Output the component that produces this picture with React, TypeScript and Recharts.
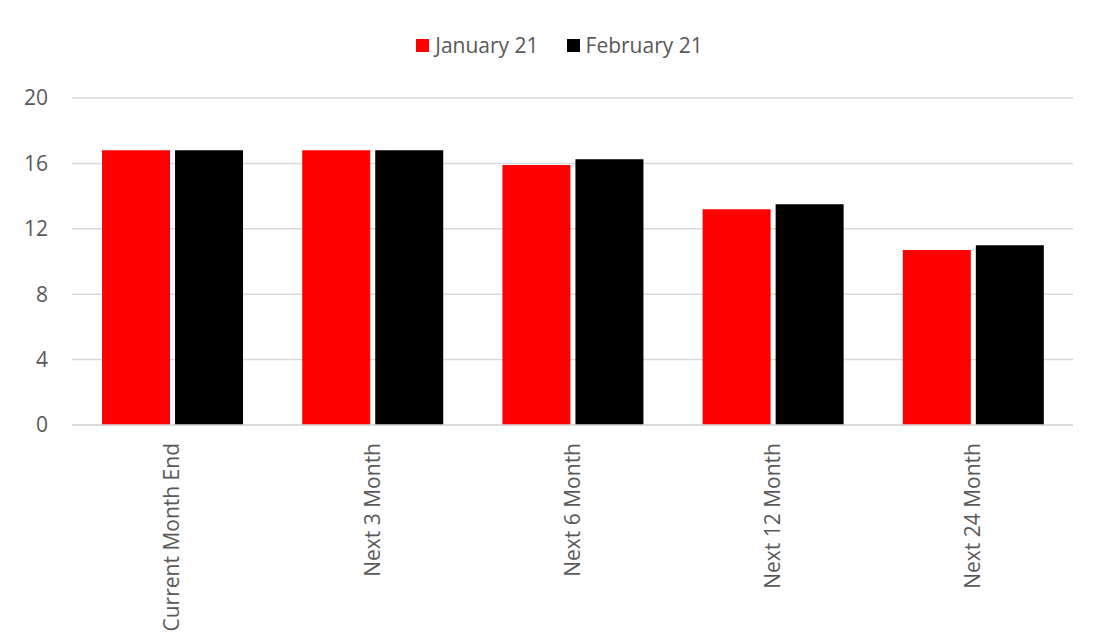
import { Bar, BarChart, CartesianGrid, Legend, XAxis, YAxis } from 'recharts';

const categories = ['Current Month End', 'Next 3 Month', 'Next 6 Month', 'Next 12 Month', 'Next 24 Month'];
const january21 = [16.8, 16.8, 15.9, 13.2, 10.7];
const february21 = [16.8, 16.8, 16.25, 13.5, 11.0];
const yTicks = [0, 4, 8, 12, 16, 20];

const seriesNames = ['January 21', 'February 21'];
const seriesColors = ['#ff0000', '#000000'];

const chartData = categories.map((c, i) => ({
  name: c,
  jan: january21[i],
  feb: february21[i],
}));

const FONT = '"Open Sans", "Noto Sans", sans-serif';
const TEXT = '#595959';

function RotatedTick(props: any) {
  const { x, y, payload } = props;
  return (
    <g transform={`translate(${x},${y})`}>
      <text
        transform="rotate(-90)"
        x={-10}
        y={0}
        dy="0.35em"
        textAnchor="end"
        fill={TEXT}
        fontSize={21}
        fontFamily={FONT}
      >
        {payload.value}
      </text>
    </g>
  );
}

function LegendContent() {
  return (
    <div
      style={{
        display: 'flex',
        justifyContent: 'center',
        gap: 28,
        paddingLeft: 12,
        fontFamily: FONT,
        fontSize: 21,
        color: TEXT,
        lineHeight: '28px',
      }}
    >
      {seriesNames.map((n, i) => (
        <div key={n} style={{ display: 'flex', alignItems: 'center' }}>
          <span style={{ display: 'inline-block', width: 13, height: 13, background: seriesColors[i], marginRight: 6 }} />
          <span>{n}</span>
        </div>
      ))}
    </div>
  );
}

export default function App() {
  return (
    <div style={{ position: 'relative', marginLeft: -2, marginTop: -2, width: 1095, height: 652, background: '#fff' }}>
      <div
        style={{
          position: 'absolute',
          left: 0,
          top: 0,
          width: 1093,
          height: 650,
          border: '1px solid #cfcfcf',
          pointerEvents: 'none',
        }}
      />
      <div style={{ position: 'absolute', left: 1, top: 1 }}>
        <BarChart
          width={1093}
          height={638}
          data={chartData}
          margin={{ top: 63, right: 27, left: 20, bottom: 0 }}
          barCategoryGap="15%"
          barGap={5}
        >
          <CartesianGrid vertical={false} stroke="#d9d9d9" strokeWidth={1.5} />
          <Legend
            verticalAlign="top"
            content={<LegendContent />}
            wrapperStyle={{ top: 24, left: 0, width: 1093 }}
          />
          <XAxis
            dataKey="name"
            interval={0}
            height={220}
            tickLine={false}
            axisLine={{ stroke: '#d9d9d9', strokeWidth: 1.5 }}
            tick={<RotatedTick />}
          />
          <YAxis
            width={45}
            domain={[0, 20]}
            ticks={yTicks}
            axisLine={false}
            tickLine={false}
            tickMargin={18}
            tick={{ fill: TEXT, fontSize: 21, fontFamily: FONT }}
          />
          <Bar dataKey="jan" name={seriesNames[0]} fill={seriesColors[0]} isAnimationActive={false} />
          <Bar dataKey="feb" name={seriesNames[1]} fill={seriesColors[1]} isAnimationActive={false} />
        </BarChart>
      </div>
    </div>
  );
}
